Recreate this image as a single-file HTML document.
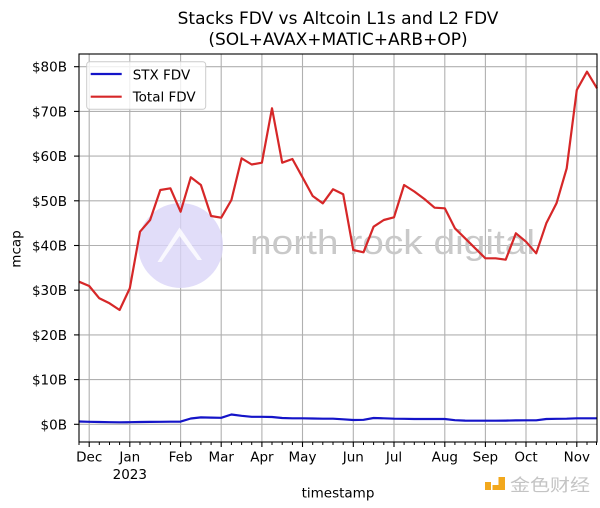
<!DOCTYPE html>
<html><head><meta charset="utf-8"><style>
html,body{margin:0;padding:0;background:#fff;}
svg{display:block;}
text{font-family:"DejaVu Sans","Liberation Sans",sans-serif;fill:#000;}
</style></head><body>
<svg width="600" height="508" viewBox="0 0 600 508" xmlns="http://www.w3.org/2000/svg">
<rect x="0" y="0" width="600" height="508" fill="#fff"/>
<text x="338" y="24" font-size="17" text-anchor="middle">Stacks FDV vs Altcoin L1s and L2 FDV</text>
<text x="338" y="45" font-size="17" text-anchor="middle">(SOL+AVAX+MATIC+ARB+OP)</text>
<g stroke="#b0b0b0" stroke-width="1.1">
<line x1="89.2" y1="54" x2="89.2" y2="442"/>
<line x1="129.8" y1="54" x2="129.8" y2="442"/>
<line x1="180.6" y1="54" x2="180.6" y2="442"/>
<line x1="221.2" y1="54" x2="221.2" y2="442"/>
<line x1="261.9" y1="54" x2="261.9" y2="442"/>
<line x1="302.5" y1="54" x2="302.5" y2="442"/>
<line x1="353.3" y1="54" x2="353.3" y2="442"/>
<line x1="394.0" y1="54" x2="394.0" y2="442"/>
<line x1="444.8" y1="54" x2="444.8" y2="442"/>
<line x1="485.4" y1="54" x2="485.4" y2="442"/>
<line x1="526.0" y1="54" x2="526.0" y2="442"/>
<line x1="576.8" y1="54" x2="576.8" y2="442"/>
<line x1="79" y1="424.3" x2="597" y2="424.3"/>
<line x1="79" y1="379.6" x2="597" y2="379.6"/>
<line x1="79" y1="334.9" x2="597" y2="334.9"/>
<line x1="79" y1="290.2" x2="597" y2="290.2"/>
<line x1="79" y1="245.5" x2="597" y2="245.5"/>
<line x1="79" y1="200.8" x2="597" y2="200.8"/>
<line x1="79" y1="156.1" x2="597" y2="156.1"/>
<line x1="79" y1="111.4" x2="597" y2="111.4"/>
<line x1="79" y1="66.7" x2="597" y2="66.7"/>
</g>
<circle cx="180.5" cy="245.5" r="42.5" fill="#d9d4f8" opacity="0.8"/>
<polygon points="179.5,227.5 157.5,262 161.5,262 179.5,236 197.5,260 202,260" fill="#fff" opacity="0.8"/>
<text x="250" y="254" font-size="34" textLength="285" lengthAdjust="spacingAndGlyphs" style="font-family:'Liberation Sans',sans-serif;fill:#c9c9c9;">north rock digital</text>
<polyline fill="none" stroke="#d62728" stroke-width="2.2" stroke-linejoin="round" points="79.0,281.7 89.2,286 99.3,298.3 109.5,303.3 119.6,310 129.8,288.3 140.0,231.7 150.1,220 160.3,190 170.4,188.3 180.6,211.7 190.8,177.3 200.9,185 211.1,216 221.2,217.7 231.4,200 241.6,158.3 251.7,164.5 261.9,162.7 272.0,108.3 282.2,162.7 292.4,159 302.5,177.3 312.7,196 322.8,203.3 333.0,189.3 343.2,194.3 353.3,250 363.5,252.3 373.6,226.7 383.8,220 394.0,217.3 404.1,185 414.3,191.5 424.4,199 434.6,207.7 444.8,208.3 454.9,228.3 465.1,238.3 475.2,248.3 485.4,258.3 495.6,258.3 505.7,259.7 515.9,233.3 526.0,241.7 536.2,253.3 546.3,223.3 556.5,203.3 566.7,168.3 576.8,90 587.0,71.7 597.0,88.3"/>
<polyline fill="none" stroke="#1414c8" stroke-width="2.2" stroke-linejoin="round" points="79.0,421.5 89.2,421.8 99.3,422 109.5,422.2 119.6,422.3 129.8,422.2 140.0,422 150.1,421.9 160.3,421.8 170.4,421.7 180.6,421.6 190.8,418.5 200.9,417.4 211.1,417.6 221.2,417.8 231.4,414.5 241.6,415.8 251.7,416.8 261.9,416.8 272.0,417 282.2,418 292.4,418.3 302.5,418.3 312.7,418.5 322.8,418.7 333.0,418.7 343.2,419.3 353.3,420 363.5,419.8 373.6,418 383.8,418.3 394.0,418.7 404.1,418.8 414.3,419 424.4,419 434.6,419 444.8,419 454.9,420.2 465.1,420.6 475.2,420.7 485.4,420.7 495.6,420.7 505.7,420.6 515.9,420.4 526.0,420.3 536.2,420.3 546.3,419 556.5,418.8 566.7,418.7 576.8,418.3 587.0,418.3 597.0,418.3"/>
<rect x="79" y="54" width="518" height="388" fill="none" stroke="#000" stroke-width="1.1"/>
<g stroke="#000" stroke-width="1.1">
<line x1="74" y1="424.3" x2="79" y2="424.3"/>
<line x1="74" y1="379.6" x2="79" y2="379.6"/>
<line x1="74" y1="334.9" x2="79" y2="334.9"/>
<line x1="74" y1="290.2" x2="79" y2="290.2"/>
<line x1="74" y1="245.5" x2="79" y2="245.5"/>
<line x1="74" y1="200.8" x2="79" y2="200.8"/>
<line x1="74" y1="156.1" x2="79" y2="156.1"/>
<line x1="74" y1="111.4" x2="79" y2="111.4"/>
<line x1="74" y1="66.7" x2="79" y2="66.7"/>
</g>
<g font-size="13.5" text-anchor="end">
<text x="67" y="429.3">$0B</text>
<text x="67" y="384.6">$10B</text>
<text x="67" y="339.9">$20B</text>
<text x="67" y="295.2">$30B</text>
<text x="67" y="250.5">$40B</text>
<text x="67" y="205.8">$50B</text>
<text x="67" y="161.1">$60B</text>
<text x="67" y="116.4">$70B</text>
<text x="67" y="71.7">$80B</text>
</g>
<g stroke="#000" stroke-width="1.1">
<line x1="89.2" y1="442" x2="89.2" y2="447"/>
<line x1="129.8" y1="442" x2="129.8" y2="447"/>
<line x1="180.6" y1="442" x2="180.6" y2="447"/>
<line x1="221.2" y1="442" x2="221.2" y2="447"/>
<line x1="261.9" y1="442" x2="261.9" y2="447"/>
<line x1="302.5" y1="442" x2="302.5" y2="447"/>
<line x1="353.3" y1="442" x2="353.3" y2="447"/>
<line x1="394.0" y1="442" x2="394.0" y2="447"/>
<line x1="444.8" y1="442" x2="444.8" y2="447"/>
<line x1="485.4" y1="442" x2="485.4" y2="447"/>
<line x1="526.0" y1="442" x2="526.0" y2="447"/>
<line x1="576.8" y1="442" x2="576.8" y2="447"/>
</g>
<g stroke="#000" stroke-width="1">
<line x1="79" y1="442" x2="79" y2="445"/>
<line x1="99.3" y1="442" x2="99.3" y2="445"/>
<line x1="109.5" y1="442" x2="109.5" y2="445"/>
<line x1="119.6" y1="442" x2="119.6" y2="445"/>
<line x1="140.0" y1="442" x2="140.0" y2="445"/>
<line x1="150.1" y1="442" x2="150.1" y2="445"/>
<line x1="160.3" y1="442" x2="160.3" y2="445"/>
<line x1="170.4" y1="442" x2="170.4" y2="445"/>
<line x1="190.8" y1="442" x2="190.8" y2="445"/>
<line x1="200.9" y1="442" x2="200.9" y2="445"/>
<line x1="211.1" y1="442" x2="211.1" y2="445"/>
<line x1="231.4" y1="442" x2="231.4" y2="445"/>
<line x1="241.6" y1="442" x2="241.6" y2="445"/>
<line x1="251.7" y1="442" x2="251.7" y2="445"/>
<line x1="272.0" y1="442" x2="272.0" y2="445"/>
<line x1="282.2" y1="442" x2="282.2" y2="445"/>
<line x1="292.4" y1="442" x2="292.4" y2="445"/>
<line x1="312.7" y1="442" x2="312.7" y2="445"/>
<line x1="322.8" y1="442" x2="322.8" y2="445"/>
<line x1="333.0" y1="442" x2="333.0" y2="445"/>
<line x1="343.2" y1="442" x2="343.2" y2="445"/>
<line x1="363.5" y1="442" x2="363.5" y2="445"/>
<line x1="373.6" y1="442" x2="373.6" y2="445"/>
<line x1="383.8" y1="442" x2="383.8" y2="445"/>
<line x1="404.1" y1="442" x2="404.1" y2="445"/>
<line x1="414.3" y1="442" x2="414.3" y2="445"/>
<line x1="424.4" y1="442" x2="424.4" y2="445"/>
<line x1="434.6" y1="442" x2="434.6" y2="445"/>
<line x1="454.9" y1="442" x2="454.9" y2="445"/>
<line x1="465.1" y1="442" x2="465.1" y2="445"/>
<line x1="475.2" y1="442" x2="475.2" y2="445"/>
<line x1="495.6" y1="442" x2="495.6" y2="445"/>
<line x1="505.7" y1="442" x2="505.7" y2="445"/>
<line x1="515.9" y1="442" x2="515.9" y2="445"/>
<line x1="536.2" y1="442" x2="536.2" y2="445"/>
<line x1="546.3" y1="442" x2="546.3" y2="445"/>
<line x1="556.5" y1="442" x2="556.5" y2="445"/>
<line x1="566.7" y1="442" x2="566.7" y2="445"/>
<line x1="587.0" y1="442" x2="587.0" y2="445"/>
<line x1="596.5" y1="442" x2="596.5" y2="445"/>
</g>
<g font-size="13.5" text-anchor="middle">
<text x="89.2" y="461.5">Dec</text>
<text x="129.8" y="461.5">Jan</text>
<text x="129.8" y="479">2023</text>
<text x="180.6" y="461.5">Feb</text>
<text x="221.2" y="461.5">Mar</text>
<text x="261.9" y="461.5">Apr</text>
<text x="302.5" y="461.5">May</text>
<text x="353.3" y="461.5">Jun</text>
<text x="394.0" y="461.5">Jul</text>
<text x="444.8" y="461.5">Aug</text>
<text x="485.4" y="461.5">Sep</text>
<text x="526.0" y="461.5">Oct</text>
<text x="576.8" y="461.5">Nov</text>
<text x="338" y="497.5">timestamp</text>
</g>
<text x="0" y="0" font-size="13.5" text-anchor="middle" transform="translate(20.5,249) rotate(-90)">mcap</text>
<rect x="86.7" y="61.7" width="119" height="47.6" rx="3" fill="#fff" fill-opacity="0.8" stroke="#cccccc" stroke-width="1"/>
<line x1="90.7" y1="74" x2="121.7" y2="74" stroke="#1414c8" stroke-width="2.2"/>
<line x1="90.7" y1="96.7" x2="121.7" y2="96.7" stroke="#d62728" stroke-width="2.2"/>
<text x="132.7" y="79.5" font-size="13.5">STX FDV</text>
<text x="132.7" y="101.5" font-size="13.5">Total FDV</text>
<g fill="#f2a81d">
<rect x="485" y="482" width="6" height="8"/>
<rect x="498.5" y="477" width="6.5" height="13"/>
<rect x="492.5" y="485" width="12.5" height="5"/>
</g>
<text x="510" y="491" font-size="17" textLength="80" lengthAdjust="spacingAndGlyphs" style="font-family:'Noto Sans CJK SC',sans-serif;fill:#c4c4c4;">金色财经</text>
</svg>
</body></html>
